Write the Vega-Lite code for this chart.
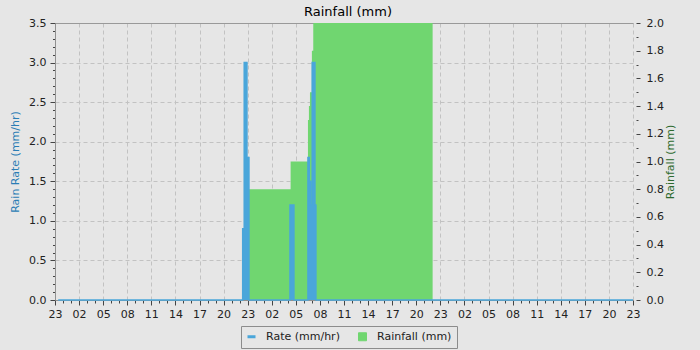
{
  "$schema": "https://vega.github.io/schema/vega-lite/v6.json",
  "width": 578,
  "height": 277,
  "autosize": "none",
  "padding": {"left": 55, "top": 23, "right": 67, "bottom": 50},
  "background": "#e6e6e6",
  "title": {"text": "Rainfall (mm)", "font": "DejaVu Sans", "fontSize": 13, "fontWeight": "normal", "color": "#000000", "anchor": "middle", "offset": -2, "dx": 4},
  "datasets": {
    "rain": [
      {"h": 0, "rain": 0},
      {"h": 23.9, "rain": 0.8},
      {"h": 29.35, "rain": 1.0},
      {"h": 31.51, "rain": 1.3},
      {"h": 31.63, "rain": 1.4},
      {"h": 31.76, "rain": 1.5},
      {"h": 32.0, "rain": 1.8},
      {"h": 32.17, "rain": 2.0},
      {"h": 47.04, "rain": 0},
      {"h": 72, "rain": 0}
    ],
    "rate": [
      {"h": 0.4, "rate": 0},
      {"h": 23.38, "rate": 0.9},
      {"h": 23.57, "rate": 3.0},
      {"h": 23.91, "rate": 1.8},
      {"h": 24.16, "rate": 0},
      {"h": 29.27, "rate": 1.2},
      {"h": 29.76, "rate": 0},
      {"h": 31.51, "rate": 1.8},
      {"h": 31.67, "rate": 1.5},
      {"h": 31.84, "rate": 1.2},
      {"h": 32.04, "rate": 3.0},
      {"h": 32.38, "rate": 1.2},
      {"h": 32.5, "rate": 0},
      {"h": 72, "rate": 0}
    ]
  },
  "config": {
    "font": "DejaVu Sans",
    "view": {"stroke": null, "fill": "#e6e6e6"},
    "axis": {
      "labelFont": "DejaVu Sans",
      "labelFontSize": 11,
      "labelColor": "#222222",
      "titleFont": "DejaVu Sans",
      "titleFontSize": 11,
      "titleFontWeight": "normal",
      "domainColor": "#909090",
      "tickColor": "#444444",
      "gridColor": "#c2c2c2",
      "gridDash": [4, 3],
      "labelOverlap": false,
      "labelBound": false,
      "labelFlush": false
    }
  },
  "layer": [
    {
      "data": {"name": "rain"},
      "mark": {"type": "area", "interpolate": "step-after"},
      "encoding": {
        "x": {
          "field": "h", "type": "quantitative",
          "scale": {"domain": [0, 72], "nice": false, "zero": false},
          "axis": {"orient": "top", "domain": true, "domainColor": "#999999", "ticks": false, "labels": false, "grid": false, "title": null}
        },
        "y": {
          "field": "rain", "type": "quantitative",
          "scale": {"domain": [0, 2], "nice": false},
          "axis": {
            "orient": "right",
            "values": [0, 0.1, 0.2, 0.3, 0.4, 0.5, 0.6, 0.7, 0.8, 0.9, 1.0, 1.1, 1.2, 1.3, 1.4, 1.5, 1.6, 1.7, 1.8, 1.9, 2.0],
            "labelExpr": "abs(datum.value*5 - round(datum.value*5)) < 0.001 ? format(datum.value, '.1f') : ''",
            "tickSize": {"condition": {"test": "abs(datum.value*5 - round(datum.value*5)) < 0.001", "value": 4}, "value": 2},
            "domain": false,
            "offset": 3,
            "grid": false,
            "labelPadding": 6,
            "title": "Rainfall (mm)",
            "titleColor": "#2e6b2e",
            "titleAngle": 270,
            "titlePadding": 12
          }
        },
        "color": {
          "datum": "Rainfall (mm)",
          "scale": {"domain": ["Rate (mm/hr)", "Rainfall (mm)"], "range": ["#4aa6da", "#70d670"]},
          "legend": {
            "orient": "none",
            "legendX": 186,
            "legendY": 303,
            "direction": "horizontal",
            "title": null,
            "padding": 5,
            "strokeColor": "#8c8c8c",
            "fillColor": "#e6e6e6",
            "labelFont": "DejaVu Sans",
            "labelFontSize": 11,
            "labelColor": "#222222",
            "symbolSize": 64,
            "labelOffset": 9,
            "columnPadding": 16,
            "encode": {
              "symbols": {
                "update": {
                  "shape": {"signal": "datum.value === 'Rate (mm/hr)' ? 'stroke' : 'square'"},
                  "fill": {"signal": "datum.value === 'Rate (mm/hr)' ? 'transparent' : '#70d670'"},
                  "stroke": {"signal": "datum.value === 'Rate (mm/hr)' ? '#4aa6da' : '#777777'"},
                  "strokeWidth": {"signal": "datum.value === 'Rate (mm/hr)' ? 3 : 1"},
                  "opacity": {"value": 1}
                }
              }
            }
          }
        }
      }
    },
    {
      "data": {"name": "rate"},
      "encoding": {
        "x": {
          "field": "h", "type": "quantitative",
          "scale": {"domain": [0, 72], "nice": false, "zero": false},
          "axis": {
            "orient": "bottom",
            "values": [0,1,2,3,4,5,6,7,8,9,10,11,12,13,14,15,16,17,18,19,20,21,22,23,24,25,26,27,28,29,30,31,32,33,34,35,36,37,38,39,40,41,42,43,44,45,46,47,48,49,50,51,52,53,54,55,56,57,58,59,60,61,62,63,64,65,66,67,68,69,70,71,72],
            "labelExpr": "datum.value % 3 === 0 ? format((datum.value + 23) % 24, '02d') : ''",
            "tickSize": {"condition": {"test": "datum.value % 3 === 0", "value": 5}, "value": 3},
            "grid": true,
            "gridOpacity": {"condition": {"test": "datum.value % 3 === 0", "value": 1}, "value": 0},
            "labelPadding": 3,
            "title": null
          }
        },
        "y": {
          "field": "rate", "type": "quantitative",
          "scale": {"domain": [0, 3.5], "nice": false},
          "axis": {
            "orient": "left",
            "values": [0, 0.1, 0.2, 0.3, 0.4, 0.5, 0.6, 0.7, 0.8, 0.9, 1.0, 1.1, 1.2, 1.3, 1.4, 1.5, 1.6, 1.7, 1.8, 1.9, 2.0, 2.1, 2.2, 2.3, 2.4, 2.5, 2.6, 2.7, 2.8, 2.9, 3.0, 3.1, 3.2, 3.3, 3.4, 3.5],
            "labelExpr": "abs(datum.value*2 - round(datum.value*2)) < 0.001 ? format(datum.value, '.1f') : ''",
            "tickSize": {"condition": {"test": "abs(datum.value*2 - round(datum.value*2)) < 0.001", "value": 5}, "value": 2.5},
            "grid": true,
            "gridOpacity": {"condition": {"test": "abs(datum.value*2 - round(datum.value*2)) < 0.001 && datum.value > 0.01", "value": 1}, "value": 0},
            "labelPadding": 4,
            "title": "Rain Rate (mm/hr)",
            "titleColor": "#2a7db5",
            "titlePadding": 8
          }
        },
        "color": {"datum": "Rate (mm/hr)"}
      },
      "layer": [
        {"mark": {"type": "area", "interpolate": "step-after"}},
        {"mark": {"type": "line", "interpolate": "step-after", "strokeWidth": 1.5}}
      ]
    }
  ],
  "resolve": {"scale": {"y": "independent"}, "axis": {"y": "independent", "x": "independent"}}
}
